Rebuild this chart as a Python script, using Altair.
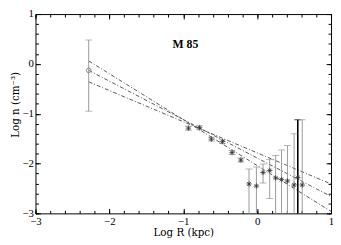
import altair as alt
import pandas as pd

TICK_FONT = "Liberation Serif"
TITLE_FONT = "DejaVu Serif"

# three fitted power-law lines (end points)
line_id = ["steep", "mid", "shallow"]
line_x0 = [-2.28, -2.28, -2.28]
line_y0 = [0.06, -0.13, -0.36]
line_x1 = [1.0, 1.0, 1.0]
line_y1 = [-2.96, -2.66, -2.41]

# outer point (open circle)
out_x = [-2.28]
out_y = [-0.13]
out_lo = [-0.95]
out_hi = [0.48]

# inner points (asterisks)
star_x = [-0.93, -0.78, -0.62, -0.47, -0.34, -0.22, -0.11, -0.01, 0.08, 0.17,
          0.25, 0.33, 0.41, 0.50, 0.55, 0.61]
star_y = [-1.29, -1.28, -1.51, -1.56, -1.78, -1.93, -2.41, -2.45, -2.18, -2.14,
          -2.29, -2.32, -2.35, -2.43, -2.28, -2.43]
star_hi = [-1.25, -1.24, -1.47, -1.52, -1.74, -1.89, -2.11, -2.07, -2.01, -1.92,
           -1.84, -1.73, -1.64, -1.40, -1.12, -1.12]
star_lo = [-1.33, -1.32, -1.55, -1.60, -1.82, -1.97, -3.5, -3.5, -2.39, -2.70,
           -3.5, -3.5, -3.5, -3.5, -3.5, -3.5]
star_col = ["#999999"] * 14 + ["#000000", "#999999"]
star_w = [1] * 14 + [1.6, 1]

label_text = ["M 85"]
label_x = [-0.97]
label_y = [0.40]

major = [-3, -2, -1, 0, 1]
minor = [round(-3 + 0.2 * i, 1) for i in range(21)]

lines_df = pd.DataFrame({
    "id": line_id * 2,
    "x": line_x0 + line_x1,
    "y": line_y0 + line_y1,
})
err_df = pd.DataFrame({
    "x": out_x + star_x,
    "lo": out_lo + star_lo,
    "hi": out_hi + star_hi,
    "c": ["#999999"] + star_col,
    "w": [1] + star_w,
})
caps_df = pd.DataFrame({
    "x": list(err_df["x"]) * 2,
    "y": list(err_df["hi"]) + list(err_df["lo"]),
    "c": list(err_df["c"]) * 2,
})
out_df = pd.DataFrame({"x": out_x, "y": out_y})
star_df = pd.DataFrame({"x": star_x, "y": star_y})
label_df = pd.DataFrame({"t": label_text, "x": label_x, "y": label_y})


def ax(orient, values, size, labels=False, title=None, pad=2, tpad=3, **extra):
    kw = dict(orient=orient, values=values, tickSize=size, offset=-size,
              domain=False, grid=False, labels=labels, tickColor="black",
              tickWidth=1, title=title)
    if labels:
        kw.update(labelFont=TICK_FONT, labelFontSize=11, labelColor="black",
                  labelPadding=pad, labelFlush=False, labelOverlap=False)
    if title:
        kw.update(titleFont=TITLE_FONT, titleFontSize=10.5, titleFontWeight="normal",
                  titleColor="black", titlePadding=tpad)
    kw.update(extra)
    return alt.Axis(**kw)


xs = alt.Scale(domain=[-3, 1], nice=False, zero=False)
ys = alt.Scale(domain=[-3, 1], nice=False, zero=False)

lines = alt.Chart(lines_df).mark_line(
    color="#444444", strokeWidth=0.9, strokeDash=[4, 2, 1, 2], clip=True
).encode(
    x=alt.X("x:Q", scale=xs, axis=ax("bottom", major, 5, True, "Log R (kpc)", pad=2, tpad=2)),
    y=alt.Y("y:Q", scale=ys, axis=ax("left", major, 5, True, "Log n (cm⁻³)", pad=2, tpad=2, titleY=92)),
    detail="id:N",
)

rules = alt.Chart(err_df).mark_rule(clip=True).encode(
    x=alt.X("x:Q", scale=xs, axis=ax("bottom", minor, 3)),
    y=alt.Y("lo:Q", scale=ys, axis=ax("left", minor, 3)),
    y2="hi:Q",
    color=alt.Color("c:N", scale=None),
    strokeWidth=alt.StrokeWidth("w:Q", scale=None),
)

caps = alt.Chart(caps_df).mark_tick(
    orient="horizontal", thickness=1, size=7, clip=True
).encode(
    x=alt.X("x:Q", scale=xs, axis=ax("top", major, 5)),
    y=alt.Y("y:Q", scale=ys, axis=ax("right", major, 5)),
    color=alt.Color("c:N", scale=None),
)

stars = alt.Chart(star_df).mark_point(
    shape="M-1,0H1M0,-1V1M-0.7,-0.7L0.7,0.7M-0.7,0.7L0.7,-0.7",
    filled=False, size=30, color="#333333", strokeWidth=0.8, opacity=1
).encode(
    x=alt.X("x:Q", scale=xs, axis=ax("top", minor, 3)),
    y=alt.Y("y:Q", scale=ys, axis=ax("right", minor, 3)),
)

circle = alt.Chart(out_df).mark_point(
    shape="circle", filled=False, size=22, color="#888888", strokeWidth=1, opacity=1
).encode(
    x=alt.X("x:Q", scale=xs, axis=None),
    y=alt.Y("y:Q", scale=ys, axis=None),
)

text = alt.Chart(label_df).mark_text(
    font="Liberation Serif", fontSize=12, fontWeight="bold", color="black"
).encode(
    x=alt.X("x:Q", scale=xs, axis=None),
    y=alt.Y("y:Q", scale=ys, axis=None),
    text="t:N",
)

chart = alt.layer(lines, rules, caps, stars, circle, text).resolve_axis(
    x="independent", y="independent"
).properties(
    width=301, height=203,
    autosize=alt.AutoSizeParams(type="none"),
    padding={"left": 28, "top": 4, "right": 2, "bottom": 28},
).configure_view(stroke="black", strokeWidth=1)

chart.save("out.html", embed_options={"renderer": "svg", "actions": False})
